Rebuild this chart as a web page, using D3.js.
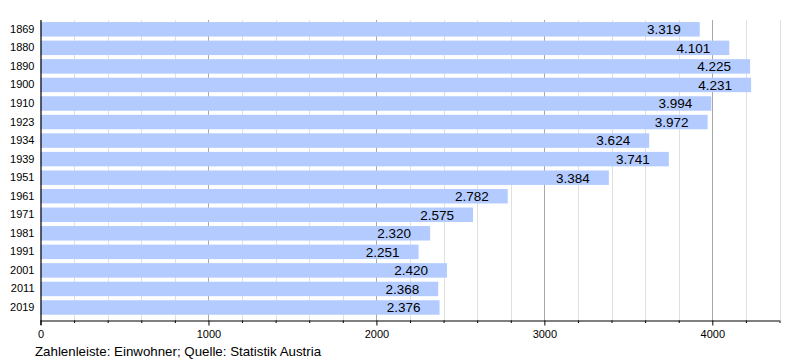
<!DOCTYPE html>
<html>
<head>
<meta charset="utf-8">
<script src="https://cdn.jsdelivr.net/npm/d3@7"></script>
<style>
  html, body { margin: 0; padding: 0; background: #fff; }
  svg { display: block; font-family: "Liberation Sans", Arial, sans-serif; }
</style>
</head>
<body>
<svg id="chart" width="800" height="360"></svg>
<script>
const years = ["1869","1880","1890","1900","1910","1923","1934","1939","1951","1961","1971","1981","1991","2001","2011","2019"];
const barValues = [3925, 4101, 4225, 4231, 3994, 3972, 3624, 3741, 3384, 2782, 2575, 2320, 2251, 2420, 2368, 2376];
const valueLabels = ["3.319","4.101","4.225","4.231","3.994","3.972","3.624","3.741","3.384","2.782","2.575","2.320","2.251","2.420","2.368","2.376"];
const majorTicks = [0, 1000, 2000, 3000, 4000];
const footerText = "Zahlenleiste: Einwohner; Quelle: Statistik Austria";

const FONT = "'Liberation Sans', Arial, sans-serif";
const svg = d3.select("#chart");
const x = d3.scaleLinear().domain([0, 4400]).range([40.5, 779.5]);
const y = d3.scaleBand().domain(years).range([18, 318.8]).padding(0.22);
const axisY = 320.5;

const minorTicks = d3.range(0, 4401, 200);

// gridlines
svg.append("g").selectAll("line").data(minorTicks.filter(d => d % 1000 !== 0)).join("line")
  .attr("x1", d => Math.round(x(d)) + 0.5).attr("x2", d => Math.round(x(d)) + 0.5)
  .attr("y1", 20).attr("y2", axisY)
  .attr("stroke", "#e0e0e0").attr("stroke-width", 1);
svg.append("g").selectAll("line").data(majorTicks.filter(d => d > 0)).join("line")
  .attr("x1", d => Math.round(x(d)) + 0.5).attr("x2", d => Math.round(x(d)) + 0.5)
  .attr("y1", 20).attr("y2", axisY)
  .attr("stroke", "#a8a8a8").attr("stroke-width", 1);

// bars
svg.append("g").selectAll("rect").data(years).join("rect")
  .attr("x", x(0))
  .attr("y", d => y(d))
  .attr("width", (d, i) => x(barValues[i]) - x(0))
  .attr("height", y.bandwidth())
  .attr("fill", "#b3cbff");

// value labels
svg.append("g").selectAll("text").data(years).join("text")
  .attr("x", (d, i) => x(barValues[i]) - 19)
  .attr("y", d => y(d) + y.bandwidth() / 2)
  .attr("dy", "0.36em")
  .attr("text-anchor", "end")
  .attr("font-size", "13.5px")
  .attr("font-family", FONT)
  .attr("fill", "#000")
  .text((d, i) => valueLabels[i]);

// x axis
const xAxis = d3.axisBottom(x).tickValues(minorTicks).tickSize(2.5)
  .tickFormat(d => majorTicks.includes(d) ? d : "");
const gx = svg.append("g").attr("transform", `translate(0,${axisY})`).call(xAxis);
gx.select(".domain").attr("d", `M${x(0)},0.5H${x(4400)}`).attr("stroke", "#000");
gx.selectAll(".tick line").attr("stroke", "#000")
  .attr("y2", d => majorTicks.includes(d) ? 5 : 2.5);
gx.selectAll(".tick text").attr("font-size", "11px").attr("fill", "#000")
  .attr("y", 10).attr("dy", "0.71em")
  .attr("font-family", FONT);

// y axis
const yAxis = d3.axisLeft(y).tickSize(0).tickPadding(6);
const gy = svg.append("g").attr("transform", `translate(${x(0)},0)`).call(yAxis);
gy.select(".domain").attr("d", `M0.5,20V${axisY + 4.5}`).attr("stroke", "#000").attr("stroke-width", 1.2);
gy.selectAll(".tick text").attr("font-size", "11px").attr("fill", "#000")
  .attr("font-family", FONT);

// footer
svg.append("text").attr("x", 35).attr("y", 356)
  .attr("font-size", "13.3px").attr("font-family", FONT).attr("fill", "#000")
  .text(footerText);
</script>
</body>
</html>
